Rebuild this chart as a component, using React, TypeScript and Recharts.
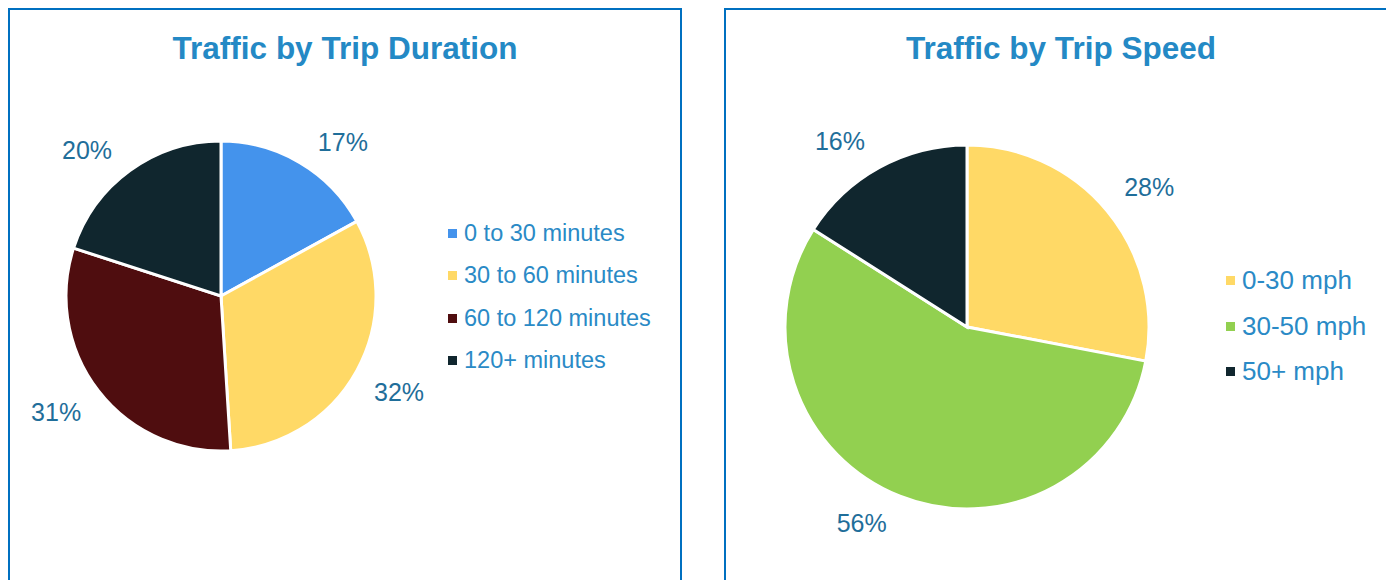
import React from 'react';
import { PieChart, Pie, Cell, Legend } from 'recharts';

const durationCategories = ['0 to 30 minutes', '30 to 60 minutes', '60 to 120 minutes', '120+ minutes'];
const durationValues = [17, 32, 31, 20];
const durationColors = ['#4493EC', '#FFD966', '#4F0D0F', '#10262E'];

const speedCategories = ['0-30 mph', '30-50 mph', '50+ mph'];
const speedValues = [28, 56, 16];
const speedColors = ['#FFD966', '#92D050', '#10262E'];

const FONT = '"Liberation Sans", Arial, sans-serif';
const TITLE_COLOR = '#2489C5';
const LEGEND_COLOR = '#2A8AC6';
const LABEL_COLOR = '#1F6E9A';
const BORDER = '#0070C0';
const RAD = Math.PI / 180;

// Label placed outside the slice: a radial anchor plus a quadrant-based box offset
const makeLabel = (gap: number, offX: number, offY: number, fontSize: number) => (props: any) => {
  const { cx, cy, midAngle, outerRadius, value } = props;
  const r = outerRadius + gap;
  const ux = Math.cos(-midAngle * RAD);
  const uy = Math.sin(-midAngle * RAD);
  const x = cx + r * ux + Math.sign(ux) * offX;
  const y = cy + r * uy + Math.sign(uy) * offY;
  return (
    <text x={x} y={y} fill={LABEL_COLOR} fontSize={fontSize} fontFamily={FONT} textAnchor="middle" dominantBaseline="central">
      {`${value}%`}
    </text>
  );
};

const makeLegend = (names: string[], colors: string[], rowHeight: number, fontSize: number) => () => (
  <div style={{ fontFamily: FONT }}>
    {names.map((name, i) => (
      <div key={name} style={{ display: 'flex', alignItems: 'center', height: rowHeight }}>
        <span style={{ display: 'inline-block', width: 9, height: 9, background: colors[i], marginRight: 7 }} />
        <span style={{ fontSize, color: LEGEND_COLOR, whiteSpace: 'nowrap' }}>{name}</span>
      </div>
    ))}
  </div>
);

const durationData = durationCategories.map((name, i) => ({ name, value: durationValues[i] }));
const speedData = speedCategories.map((name, i) => ({ name, value: speedValues[i] }));

const noMargin = { top: 0, right: 0, bottom: 0, left: 0 };

const titleStyle: React.CSSProperties = {
  position: 'absolute',
  left: 0,
  right: 0,
  top: 20,
  textAlign: 'center',
  fontSize: 31.5,
  lineHeight: '36px',
  fontWeight: 'bold',
  color: TITLE_COLOR,
};

export default function App() {
  return (
    <div style={{ position: 'absolute', left: 0, top: 0, width: 1386, height: 580, overflow: 'hidden', background: '#fff', fontFamily: FONT }}>
      {/* Left panel */}
      <div style={{ position: 'absolute', left: 8, top: 8, width: 674, height: 620, border: `2px solid ${BORDER}`, boxSizing: 'border-box' }}>
        <div style={titleStyle}>Traffic by Trip Duration</div>
        <div style={{ position: 'absolute', left: 0, top: 0 }}>
          <PieChart width={670} height={600} margin={noMargin}>
            <Pie
              data={durationData}
              dataKey="value"
              nameKey="name"
              cx={211}
              cy={286}
              outerRadius={155}
              startAngle={90}
              endAngle={-270}
              stroke="#ffffff"
              strokeWidth={3}
              labelLine={false}
              label={makeLabel(-2, 44, 22.5, 25)}
              isAnimationActive={false}
            >
              {durationData.map((d, i) => (
                <Cell key={d.name} fill={durationColors[i]} />
              ))}
            </Pie>
            <Legend
              layout="vertical"
              content={makeLegend(durationCategories, durationColors, 42.5, 23.5)}
              wrapperStyle={{ position: 'absolute', left: 438, top: 202, width: 230 }}
            />
          </PieChart>
        </div>
      </div>
      {/* Right panel */}
      <div style={{ position: 'absolute', left: 724, top: 8, width: 674, height: 620, border: `2px solid ${BORDER}`, boxSizing: 'border-box' }}>
        <div style={titleStyle}>Traffic by Trip Speed</div>
        <div style={{ position: 'absolute', left: 0, top: 0 }}>
          <PieChart width={670} height={600} margin={noMargin}>
            <Pie
              data={speedData}
              dataKey="value"
              nameKey="name"
              cx={241}
              cy={317}
              outerRadius={182}
              startAngle={90}
              endAngle={-270}
              stroke="#ffffff"
              strokeWidth={3}
              labelLine={false}
              label={makeLabel(9, 35, 18.5, 25)}
              isAnimationActive={false}
            >
              {speedData.map((d, i) => (
                <Cell key={d.name} fill={speedColors[i]} />
              ))}
            </Pie>
            <Legend
              layout="vertical"
              content={makeLegend(speedCategories, speedColors, 45.5, 26)}
              wrapperStyle={{ position: 'absolute', left: 500, top: 248, width: 170 }}
            />
          </PieChart>
        </div>
      </div>
    </div>
  );
}
